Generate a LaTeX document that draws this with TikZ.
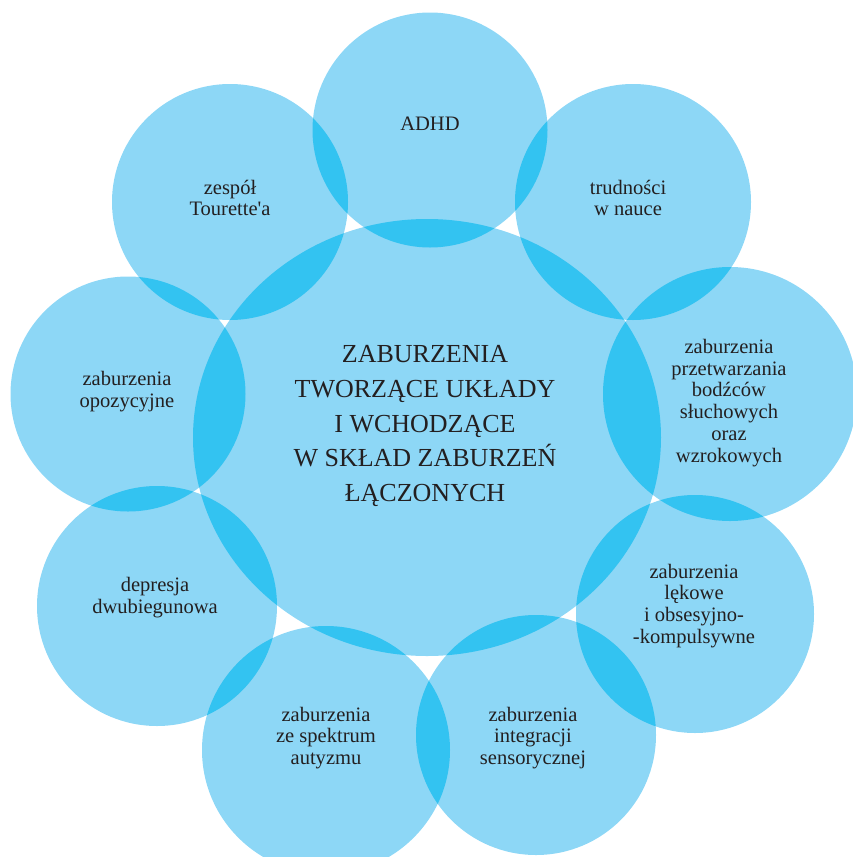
\documentclass[tikz,border=0pt]{standalone}
\usepackage{fontspec}
\setmainfont{Liberation Serif}
\usepackage{tikz}
\definecolor{jasny}{RGB}{141,215,246}
\definecolor{ciemny}{RGB}{51,195,241}
\definecolor{tekst}{RGB}{35,31,32}

\begin{document}
\begin{tikzpicture}[x=0.75pt,y=0.75pt,yscale=-1,xscale=1,
    kolo/.style={fill=jasny},
    wspolne/.style={fill=ciemny},
    opis/.style={text=tekst,align=center,inner sep=0.75pt,font=\fontsize{15.4}{16.4}\selectfont},
    tytul/.style={text=tekst,align=center,inner sep=0.75pt,font=\fontsize{19.5}{25.9}\selectfont}]

        \useasboundingbox (0,0) rectangle (853,857);
        \clip (0,0) rectangle (853,857);

        % kola
        \fill[kolo] (427,437.5) ellipse (234 and 218.5);
        \foreach \x/\y/\r in {430/130/117.5, 230/202/118, 633/202/118, 730/394/127,
                              695/614/119, 536/735/120, 326/750/124, 157/606/120, 128/394/117.5}
            \fill[kolo] (\x,\y) circle (\r);

        % czesci wspolne z kolem srodkowym
        \begin{scope}
            \clip (427,437.5) ellipse (234 and 218.5);
            \foreach \x/\y/\r in {430/130/117.5, 230/202/118, 633/202/118, 730/394/127,
                                  695/614/119, 536/735/120, 326/750/124, 157/606/120, 128/394/117.5}
                \fill[wspolne] (\x,\y) circle (\r);
        \end{scope}

        % czesci wspolne sasiednich kol
        \foreach \ax/\ay/\ar/\bx/\by/\br in {430/130/117.5/633/202/118, 633/202/118/730/394/127,
                730/394/127/695/614/119, 695/614/119/536/735/120, 536/735/120/326/750/124,
                326/750/124/157/606/120, 157/606/120/128/394/117.5, 128/394/117.5/230/202/118,
                230/202/118/430/130/117.5}{
            \begin{scope}
                \clip (\ax,\ay) circle (\ar);
                \fill[wspolne] (\bx,\by) circle (\br);
            \end{scope}
        }

        % opisy
        \node[tytul] (srodek) at (425,426) {ZABURZENIA\\TWORZĄCE UKŁADY\\I WCHODZĄCE\\W SKŁAD ZABURZEŃ\\ŁĄCZONYCH};
        \node[opis] (adhd) at (430,124) {ADHD};
        \node[opis] (tourette) at (230,198) {zespół\\Tourette\textquotesingle a};
        \node[opis] (nauka) at (628,198) {trudności\\w nauce};
        \node[opis] (bodzce) at (729,403) {zaburzenia\\przetwarzania\\bodźców\\słuchowych\\oraz\\wzrokowych};
        \node[opis] (lekowe) at (694,606) {zaburzenia\\lękowe\\i obsesyjno-\\-kompulsywne};
        \node[opis] (integracja) at (533,738) {zaburzenia\\integracji\\sensorycznej};
        \node[opis] (autyzm) at (326,738) {zaburzenia\\ze spektrum\\autyzmu};
        \node[opis] (depresja) at (155,598) {depresja\\dwubiegunowa};
        \node[opis] (opozycyjne) at (127,392) {zaburzenia\\opozycyjne};
\end{tikzpicture}
\end{document}
